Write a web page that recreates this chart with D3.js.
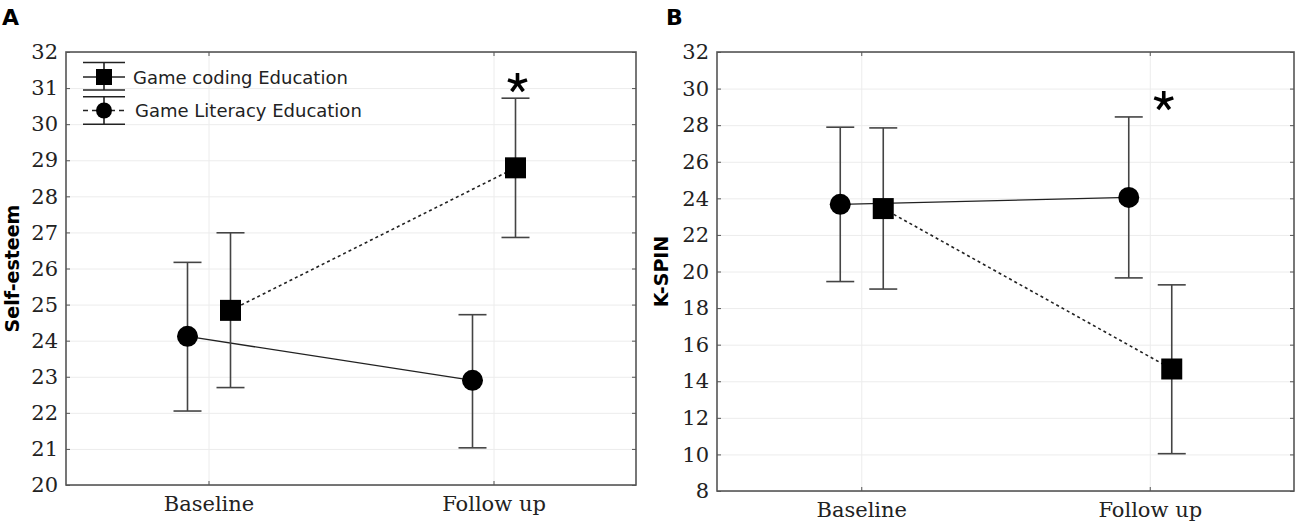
<!DOCTYPE html>
<html>
<head>
<meta charset="utf-8">
<script src="https://cdn.jsdelivr.net/npm/d3@7"></script>
<style>
  body { margin: 0; background: #fff; }
  svg { display: block; }
</style>
</head>
<body>
<svg id="chart" width="1299" height="524"></svg>
<script>
const groups = ["Baseline", "Follow up"];

// A: Self-esteem
const esteemTicks = d3.range(20, 33, 1);
const esteemCodingMean = [24.84, 28.79];
const esteemCodingHigh = [26.99, 30.72];
const esteemCodingLow = [22.70, 26.86];
const esteemLiteracyMean = [24.12, 22.90];
const esteemLiteracyHigh = [26.17, 24.72];
const esteemLiteracyLow = [22.05, 21.03];

// B: K-SPIN
const spinTicks = d3.range(8, 33, 2);
const spinCodingMean = [23.44, 14.67];
const spinCodingHigh = [27.85, 19.27];
const spinCodingLow = [19.04, 10.04];
const spinLiteracyMean = [23.67, 24.05];
const spinLiteracyHigh = [27.89, 28.45];
const spinLiteracyLow = [19.45, 19.65];

const svg = d3.select("#chart");

const SERIF = "'DejaVu Serif', serif";
const SANS = "'DejaVu Sans', sans-serif";

function series(mean, high, low) {
    return groups.map((g, i) => ({ group: g, mean: mean[i], high: high[i], low: low[i] }));
}

function drawPanel(opt) {
    const g = svg.append("g").attr("transform", `translate(${opt.left},${opt.top})`);
    const w = opt.width, h = opt.height;

    const x = d3.scalePoint().domain(groups).range([0, w]).padding(0.5);
    const y = d3.scaleLinear().domain(opt.domain).range([h, 0]);

    // grid
    g.append("g")
        .call(d3.axisLeft(y).tickValues(opt.ticks).tickSize(-w).tickFormat(""))
        .call(a => a.select(".domain").remove())
        .selectAll(".tick line").attr("stroke", "#ececec");
    g.append("g")
        .attr("transform", `translate(0,${h})`)
        .call(d3.axisBottom(x).tickSize(-h).tickFormat(""))
        .call(a => a.select(".domain").remove())
        .selectAll(".tick line").attr("stroke", "#ececec");

    // inner ticks on all four sides
    const yAxis = g.append("g")
        .call(d3.axisLeft(y).tickValues(opt.ticks).tickSize(-4).tickPadding(8).tickFormat(d3.format("d")));
    yAxis.select(".domain").remove();
    yAxis.selectAll(".tick line").attr("stroke", "#555");
    yAxis.selectAll("text")
        .attr("font-family", SERIF).attr("font-size", 21).attr("fill", "#222");

    g.append("g")
        .attr("transform", `translate(${w},0)`)
        .call(d3.axisRight(y).tickValues(opt.ticks).tickSize(-4).tickFormat(""))
        .call(a => a.select(".domain").remove())
        .selectAll(".tick line").attr("stroke", "#555");

    g.append("g")
        .call(d3.axisTop(x).tickSize(-4).tickFormat(""))
        .call(a => a.select(".domain").remove())
        .selectAll(".tick line").attr("stroke", "#555");

    const xAxis = g.append("g")
        .attr("transform", `translate(0,${h})`)
        .call(d3.axisBottom(x).tickSize(-4).tickPadding(10));
    xAxis.select(".domain").remove();
    xAxis.selectAll(".tick line").attr("stroke", "#555");
    xAxis.selectAll("text")
        .attr("font-family", SERIF).attr("font-size", 21).attr("fill", "#222")
        .attr("dy", "0.75em");

    // frame
    g.append("rect")
        .attr("width", w).attr("height", h)
        .attr("fill", "none").attr("stroke", "#555").attr("stroke-width", 1.6);

    // axis title
    g.append("text")
        .attr("transform", `translate(${opt.titleX},${h / 2}) rotate(-90)`)
        .attr("text-anchor", "middle")
        .attr("font-family", SANS).attr("font-weight", "bold").attr("font-size", 19)
        .text(opt.title);

    // panel letter
    svg.append("text")
        .attr("x", opt.left + opt.letterDx).attr("y", 25)
        .attr("font-family", SANS).attr("font-weight", "bold").attr("font-size", 22)
        .text(opt.letter);

    const line = d3.line().x(d => d.px).y(d => y(d.mean));
    const cap = 14;

    const sets = [
        { data: opt.literacy, dx: -21, dash: null, shape: "circle" },
        { data: opt.coding, dx: 22, dash: "3,3", shape: "square" }
    ];

    sets.forEach(s => s.data.forEach(d => { d.px = x(d.group) + s.dx; }));

    // connecting lines
    sets.forEach(s => {
        g.append("path")
            .datum(s.data)
            .attr("d", line)
            .attr("fill", "none")
            .attr("stroke", "#222")
            .attr("stroke-width", s.dash ? 1.6 : 1.4)
            .attr("stroke-dasharray", s.dash);
    });

    // error bars
    sets.forEach(s => {
        const eb = g.append("g").selectAll("g").data(s.data).join("g")
            .attr("stroke", "#444").attr("stroke-width", 1.6);
        eb.append("line")
            .attr("x1", d => d.px).attr("x2", d => d.px)
            .attr("y1", d => y(d.high)).attr("y2", d => y(d.low));
        eb.append("line")
            .attr("x1", d => d.px - cap).attr("x2", d => d.px + cap)
            .attr("y1", d => y(d.high)).attr("y2", d => y(d.high));
        eb.append("line")
            .attr("x1", d => d.px - cap).attr("x2", d => d.px + cap)
            .attr("y1", d => y(d.low)).attr("y2", d => y(d.low));
    });

    // markers
    sets.forEach(s => {
        if (s.shape === "circle") {
            g.append("g").selectAll("circle").data(s.data).join("circle")
                .attr("cx", d => d.px).attr("cy", d => y(d.mean)).attr("r", 10.5)
                .attr("fill", "#000");
        } else {
            g.append("g").selectAll("rect").data(s.data).join("rect")
                .attr("x", d => d.px - 10.5).attr("y", d => y(d.mean) - 10.5)
                .attr("width", 21).attr("height", 21)
                .attr("fill", "#000");
        }
    });

    // significance asterisk
    drawAsterisk(g, x(groups[1]) + opt.starDx, opt.starY, 10);

    return { g, x, y };
}

function drawAsterisk(g, cx, cy, r) {
    const angles = [-90, -18, 54, 126, 198];
    const star = g.append("g").attr("transform", `translate(${cx},${cy})`);
    angles.forEach(a => {
        const t = a * Math.PI / 180;
        star.append("line")
            .attr("x1", 0).attr("y1", 0)
            .attr("x2", r * Math.cos(t)).attr("y2", r * Math.sin(t))
            .attr("stroke", "#000").attr("stroke-width", 3.6);
    });
}

const panelA = drawPanel({
    letter: "A", letterDx: -64,
    left: 66, top: 52, width: 570, height: 433,
    domain: [20, 32], ticks: esteemTicks,
    title: "Self-esteem", titleX: -47.5,
    coding: series(esteemCodingMean, esteemCodingHigh, esteemCodingLow),
    literacy: series(esteemLiteracyMean, esteemLiteracyHigh, esteemLiteracyLow),
    starDx: 24, starY: 31
});

drawPanel({
    letter: "B", letterDx: -51,
    left: 717, top: 52, width: 577, height: 439,
    domain: [8, 32], ticks: spinTicks,
    title: "K-SPIN", titleX: -49,
    coding: series(spinCodingMean, spinCodingHigh, spinCodingLow),
    literacy: series(spinLiteracyMean, spinLiteracyHigh, spinLiteracyLow),
    starDx: 14, starY: 49
});

// legend (panel A)
const legend = panelA.g.append("g");
const legendItems = [
    { label: "Game coding Education", shape: "square", cy: 25, top: 10.5, bottom: 38, dash: null, tx: 67 },
    { label: "Game Literacy Education", shape: "circle", cy: 58.5, top: 44.7, bottom: 72.3, dash: "5,4", tx: 69 }
];
const lx = 38;
legendItems.forEach(it => {
    const li = legend.append("g").attr("stroke", "#222").attr("stroke-width", 1.6);
    li.append("line").attr("x1", lx).attr("x2", lx).attr("y1", it.top).attr("y2", it.bottom);
    li.append("line").attr("x1", lx - 21).attr("x2", lx + 21).attr("y1", it.top).attr("y2", it.top);
    li.append("line").attr("x1", lx - 21).attr("x2", lx + 21).attr("y1", it.bottom).attr("y2", it.bottom);
    li.append("line").attr("x1", lx - 21).attr("x2", lx + 21).attr("y1", it.cy).attr("y2", it.cy)
        .attr("stroke-dasharray", it.dash);
    if (it.shape === "square") {
        legend.append("rect").attr("x", lx - 8).attr("y", it.cy - 8)
            .attr("width", 16).attr("height", 16).attr("fill", "#000");
    } else {
        legend.append("circle").attr("cx", lx).attr("cy", it.cy).attr("r", 8).attr("fill", "#000");
    }
    legend.append("text")
        .attr("x", it.tx).attr("y", it.cy + 6.5)
        .attr("font-family", SANS).attr("font-size", 18).attr("fill", "#222")
        .text(it.label);
});
</script>
</body>
</html>
